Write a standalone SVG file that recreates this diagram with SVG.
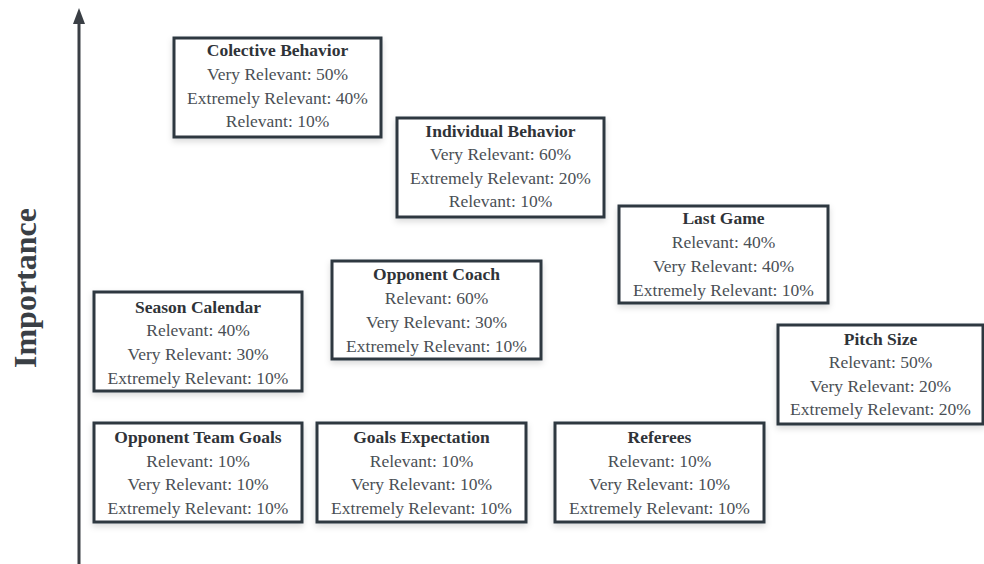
<svg xmlns="http://www.w3.org/2000/svg" width="984" height="564" viewBox="0 0 984 564">
<defs>
<filter id="sh" x="-10%" y="-10%" width="120%" height="130%">
<feDropShadow dx="0" dy="3" stdDeviation="3" flood-color="#000" flood-opacity="0.15"/>
</filter>
</defs>
<style>
.box{fill:#ffffff;stroke:#2f3740;stroke-width:3;filter:url(#sh)}
text{font-family:"Liberation Serif","Times New Roman",serif;text-anchor:middle;fill:#4a4f55;font-size:17.5px}
.t{font-weight:bold;fill:#2f3338}
.ax{font-weight:bold;font-size:32px;fill:#3a3f45}
</style>
<rect width="984" height="564" fill="#ffffff"/>
<g id="connectors">
<line x1="79" y1="564" x2="79" y2="22" stroke="#3a3f45" stroke-width="3"/>
<path d="M73,24 L79,8 L85,24 Z" fill="#3a3f45"/>
</g>
<g id="axis-label">
<text class="ax" transform="translate(36,288) rotate(-90)">Importance</text>
</g>
<g id="colective-behavior">
<rect class="box" x="174" y="38" width="207" height="99"/>
<text class="t" x="277.5" y="56">Colective Behavior</text>
<text x="277.5" y="80">Very Relevant: 50%</text>
<text x="277.5" y="104">Extremely Relevant: 40%</text>
<text x="277.5" y="127">Relevant: 10%</text>
</g>
<g id="individual-behavior">
<rect class="box" x="397" y="118" width="207" height="99"/>
<text class="t" x="500.5" y="137">Individual Behavior</text>
<text x="500.5" y="160">Very Relevant: 60%</text>
<text x="500.5" y="184">Extremely Relevant: 20%</text>
<text x="500.5" y="207">Relevant: 10%</text>
</g>
<g id="last-game">
<rect class="box" x="619" y="206" width="209" height="97"/>
<text class="t" x="723.5" y="224">Last Game</text>
<text x="723.5" y="248">Relevant: 40%</text>
<text x="723.5" y="272">Very Relevant: 40%</text>
<text x="723.5" y="296">Extremely Relevant: 10%</text>
</g>
<g id="opponent-coach">
<rect class="box" x="332" y="261" width="209" height="98"/>
<text class="t" x="436.5" y="280">Opponent Coach</text>
<text x="436.5" y="304">Relevant: 60%</text>
<text x="436.5" y="328">Very Relevant: 30%</text>
<text x="436.5" y="352">Extremely Relevant: 10%</text>
</g>
<g id="season-calendar">
<rect class="box" x="94" y="292" width="208" height="99"/>
<text class="t" x="198" y="313">Season Calendar</text>
<text x="198" y="336">Relevant: 40%</text>
<text x="198" y="360">Very Relevant: 30%</text>
<text x="198" y="384">Extremely Relevant: 10%</text>
</g>
<g id="pitch-size">
<rect class="box" x="778" y="325" width="205" height="99"/>
<text class="t" x="880.5" y="345">Pitch Size</text>
<text x="880.5" y="368">Relevant: 50%</text>
<text x="880.5" y="392">Very Relevant: 20%</text>
<text x="880.5" y="415">Extremely Relevant: 20%</text>
</g>
<g id="opponent-team-goals">
<rect class="box" x="94" y="423" width="208" height="99"/>
<text class="t" x="198" y="443">Opponent Team Goals</text>
<text x="198" y="467">Relevant: 10%</text>
<text x="198" y="490">Very Relevant: 10%</text>
<text x="198" y="514">Extremely Relevant: 10%</text>
</g>
<g id="goals-expectation">
<rect class="box" x="317" y="423" width="209" height="99"/>
<text class="t" x="421.5" y="443">Goals Expectation</text>
<text x="421.5" y="467">Relevant: 10%</text>
<text x="421.5" y="490">Very Relevant: 10%</text>
<text x="421.5" y="514">Extremely Relevant: 10%</text>
</g>
<g id="referees">
<rect class="box" x="555" y="423" width="209" height="99"/>
<text class="t" x="659.5" y="443">Referees</text>
<text x="659.5" y="467">Relevant: 10%</text>
<text x="659.5" y="490">Very Relevant: 10%</text>
<text x="659.5" y="514">Extremely Relevant: 10%</text>
</g>
</svg>
